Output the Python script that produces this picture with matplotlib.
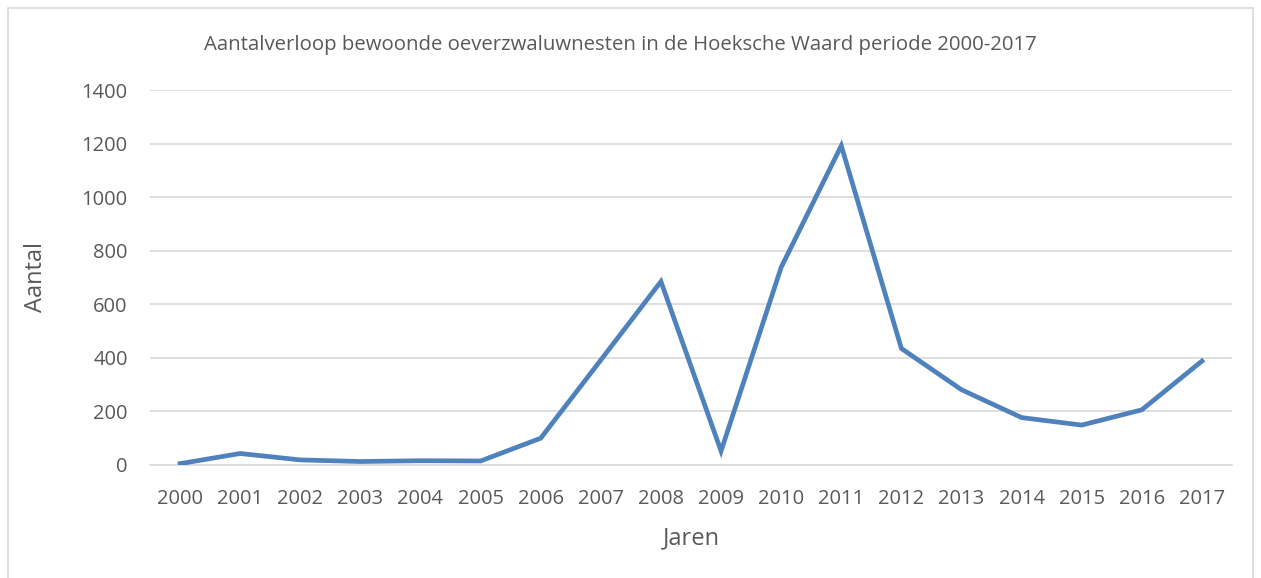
import matplotlib
matplotlib.use("Agg")
import matplotlib.pyplot as plt
from matplotlib.patches import Rectangle

years = ["2000", "2001", "2002", "2003", "2004", "2005", "2006", "2007", "2008",
         "2009", "2010", "2011", "2012", "2013", "2014", "2015", "2016", "2017"]
nests = [5, 43, 19, 13, 16, 15, 100, 392, 685, 52, 738, 1192, 435, 281, 177, 149, 206, 388]
yticks = [0, 200, 400, 600, 800, 1000, 1200, 1400]

W, H = 1261, 578
fig = plt.figure(figsize=(W / 100, H / 100), dpi=100)
plt.rcParams['font.family'] = ['Open Sans', 'DejaVu Sans']

# outer chart border
fig.patches.append(Rectangle((8 / W, -0.01), (1253 - 8) / W, 1 - 8 / H + 0.01,
                             transform=fig.transFigure, fill=False,
                             edgecolor='#D9D9D9', linewidth=1.2))

left, right, top, bottom = 150, 1232, 90, 465
ax = fig.add_axes([left / W, 1 - bottom / H, (right - left) / W, (bottom - top) / H])
x = list(range(len(years)))
ax.plot(x, nests, color='#4F81BD', linewidth=3.4, solid_joinstyle='miter', zorder=3)
ax.set_xlim(-0.5, len(years) - 0.5)
ax.set_ylim(0, 1400)
ax.set_yticks(yticks)
ax.set_xticks(x)
ax.set_xticklabels(years)
ax.grid(axis='y', color='#D9D9D9', linewidth=1.2)
ax.set_axisbelow(True)
for s in ['top', 'right', 'left']:
    ax.spines[s].set_visible(False)
ax.spines['bottom'].set_color('#D9D9D9')
ax.spines['bottom'].set_linewidth(1.2)
ax.tick_params(axis='both', length=0, labelsize=14.5, colors='#595959')
ax.tick_params(axis='x', pad=17)
ax.tick_params(axis='y', pad=16)
ax.set_xlabel('Jaren', fontsize=17, color='#595959', labelpad=13)
ax.set_ylabel('Aantal', fontsize=17, color='#595959', labelpad=24)
fig.text(620 / W, 1 - 45 / H, 'Aantalverloop bewoonde oeverzwaluwnesten in de Hoeksche Waard periode 2000-2017',
         ha='center', va='center', fontsize=14.7, color='#595959')

fig.savefig('out.png', dpi=100)
